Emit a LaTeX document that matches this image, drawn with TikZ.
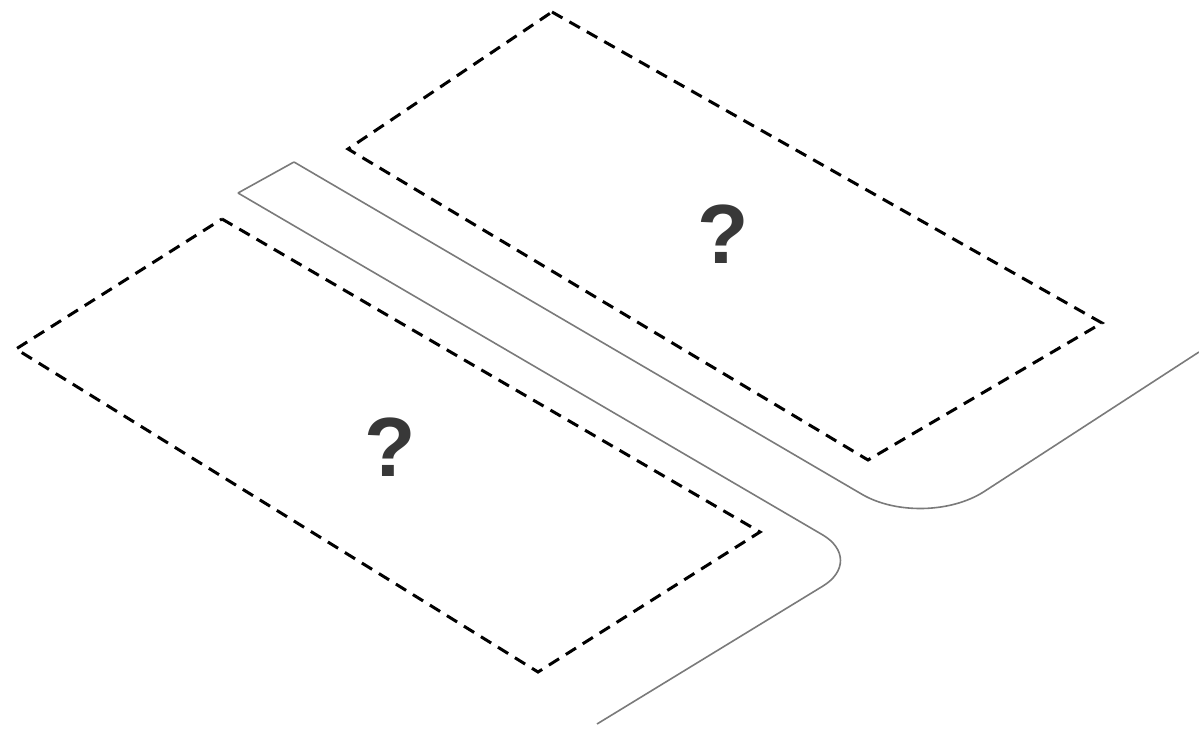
\documentclass[tikz,border=0pt]{standalone}
\usepackage{fontspec}
\setmainfont{Liberation Sans}
\begin{document}
\begin{tikzpicture}[x=1pt,y=-1pt,
  lot/.style={draw=black,line width=3pt,dash pattern=on 12pt off 8pt,line join=miter},
  road/.style={draw=black!52,line width=1.6pt},
  qmark/.style={font=\bfseries\fontsize{84}{84}\selectfont,text=black!78,inner sep=0pt}]
\useasboundingbox (0,0) rectangle (1199,730);
% road edges
\coordinate (s1) at (294,162);
\coordinate (s2) at (238,193);
\coordinate (c1) at (924,530.6);
\coordinate (e1) at (1199,352);
\coordinate (c2) at (865.6,560);
\coordinate (e2) at (597,724);
\draw[road] (s2) -- (s1);
\draw[road,rounded corners=72pt] (s1) -- (c1) -- (e1);
\draw[road,rounded corners=50pt] (s2) -- (c2) -- (e2);
% parking lots
\coordinate (a1) at (552,12);
\coordinate (a2) at (1102,323);
\coordinate (a3) at (868,460);
\coordinate (a4) at (348,149);
\draw[lot] (a1) -- (a2) -- (a3) -- (a4) -- cycle;
\coordinate (b1) at (222,219);
\coordinate (b2) at (760,532);
\coordinate (b3) at (538,672);
\coordinate (b4) at (16,349);
\draw[lot] (b1) -- (b2) -- (b3) -- (b4) -- cycle;
\node[qmark] (q1) at (723,234) {?};
\node[qmark] (q2) at (390,447) {?};
\end{tikzpicture}
\end{document}
